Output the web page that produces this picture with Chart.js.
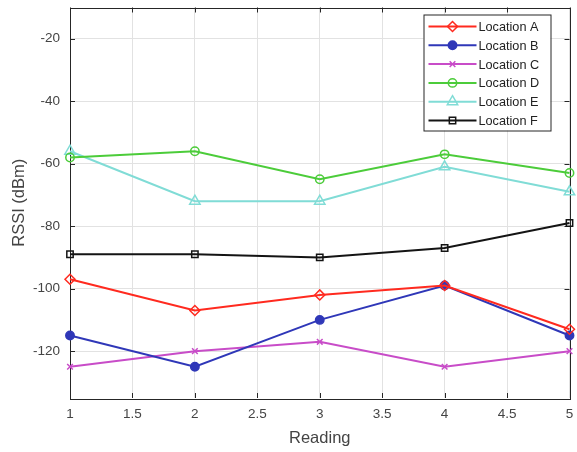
<!DOCTYPE html>
<html>
<head>
<meta charset="utf-8">
<style>
  html, body { margin: 0; padding: 0; background: #ffffff; }
  #wrap { width: 577px; height: 452px; }
</style>
<script src="https://cdn.jsdelivr.net/npm/chart.js@4/dist/chart.umd.min.js"></script>
</head>
<body>
<div id="wrap"><canvas id="c" width="577" height="452"></canvas></div>
<script>
// Readings taken at each location (RSSI in dBm)
const readings = [1, 2, 3, 4, 5];
const locationA = [-97, -107, -102, -99, -113];
const locationB = [-115, -125, -110, -99, -115];
const locationC = [-125, -120, -117, -125, -120];
const locationD = [-58, -56, -65, -57, -63];
const locationE = [-56, -72, -72, -61, -69];
const locationF = [-89, -89, -90, -87, -79];

const seriesNames = ['Location A', 'Location B', 'Location C', 'Location D', 'Location E', 'Location F'];
const xTicks = [1, 1.5, 2, 2.5, 3, 3.5, 4, 4.5, 5];
const yTicks = [-120, -100, -80, -60, -40, -20];

const FONT = "'Liberation Sans', Arial, sans-serif";
const TEXT = '#444444';

const styles = [
  { color: '#ff2a1f', point: 'rectRot', fill: false, r: 5 },
  { color: '#2f37b8', point: 'circle', fill: true, r: 4.2 },
  { color: '#c84cc8', point: 'crossRot', fill: false, r: 4 },
  { color: '#4ccc3a', point: 'circle', fill: false, r: 4.2 },
  { color: '#80dcd6', point: 'triangle', fill: false, r: 6 },
  { color: '#141414', point: 'rect', fill: false, r: 4.5 }
];
const values = [locationA, locationB, locationC, locationD, locationE, locationF];

const datasets = values.map((vals, i) => ({
  label: seriesNames[i],
  data: readings.map((x, j) => ({ x: x, y: vals[j] })),
  borderColor: styles[i].color,
  backgroundColor: styles[i].fill ? styles[i].color : 'rgba(0,0,0,0)',
  pointBorderColor: styles[i].color,
  pointBackgroundColor: styles[i].fill ? styles[i].color : '#ffffff00',
  pointStyle: styles[i].point,
  pointRadius: styles[i].r,
  pointBorderWidth: 1.5,
  borderWidth: 2,
  tension: 0,
  clip: false
}));

// Axes box with inward tick marks on all four sides
const boxPlugin = {
  id: 'box',
  beforeDatasetsDraw(chart) {
    const { ctx, chartArea: a, scales } = chart;
    ctx.save();
    ctx.strokeStyle = '#262626';
    ctx.lineWidth = 1;
    ctx.beginPath();
    xTicks.forEach(v => {
      const x = Math.round(scales.x.getPixelForValue(v)) + 0.5;
      ctx.moveTo(x, a.bottom); ctx.lineTo(x, a.bottom - 5);
      ctx.moveTo(x, a.top); ctx.lineTo(x, a.top + 5);
    });
    yTicks.forEach(v => {
      const y = Math.round(scales.y.getPixelForValue(v)) + 0.5;
      ctx.moveTo(a.left, y); ctx.lineTo(a.left + 5, y);
      ctx.moveTo(a.right, y); ctx.lineTo(a.right - 5, y);
    });
    ctx.stroke();
    ctx.strokeRect(Math.round(a.left) + 0.5, Math.round(a.top) + 0.5,
                   Math.round(a.right - a.left), Math.round(a.bottom - a.top));
    ctx.restore();
  }
};

// Boxed legend in the upper right corner of the plot
const legendPlugin = {
  id: 'boxLegend',
  afterDatasetsDraw(chart) {
    const { ctx, chartArea: a } = chart;
    const bw = 127, bh = 116;
    const bx = a.right - 19 - bw, by = a.top + 7;
    ctx.save();
    ctx.fillStyle = '#ffffff';
    ctx.fillRect(bx, by, bw, bh);
    ctx.strokeStyle = '#262626';
    ctx.lineWidth = 1;
    ctx.strokeRect(bx + 0.5, by + 0.5, bw, bh);
    ctx.font = '12.7px ' + FONT;
    ctx.textBaseline = 'middle';
    ctx.textAlign = 'left';
    chart.data.datasets.forEach((ds, i) => {
      const y = by + 12 + i * 18.8;
      ctx.strokeStyle = ds.borderColor;
      ctx.lineWidth = 2;
      ctx.beginPath();
      ctx.moveTo(bx + 5, y); ctx.lineTo(bx + 53, y);
      ctx.stroke();
      ctx.fillStyle = ds.pointBackgroundColor;
      ctx.strokeStyle = ds.pointBorderColor;
      ctx.lineWidth = 1.5;
      Chart.helpers.drawPoint(ctx, { pointStyle: ds.pointStyle, radius: ds.pointRadius, rotation: 0, borderWidth: 1.5 }, bx + 29, y);
      ctx.fillStyle = '#222222';
      ctx.fillText(ds.label, bx + 55, y + 1);
    });
    ctx.restore();
  }
};

new Chart(document.getElementById('c'), {
  type: 'line',
  data: { datasets: datasets },
  options: {
    responsive: false,
    animation: false,
    layout: { padding: { top: 5, right: 6, left: 0, bottom: 0 } },
    plugins: { legend: { display: false }, tooltip: { enabled: false } },
    scales: {
      x: {
        type: 'linear',
        min: 1, max: 5,
        afterBuildTicks: s => { s.ticks = xTicks.map(v => ({ value: v })); },
        afterFit: s => { s.height = 54; s.paddingLeft = 0; s.paddingRight = 0; },
        grid: { color: '#e2e2e2', drawTicks: false, lineWidth: 1 },
        border: { display: false },
        ticks: {
          padding: 8,
          color: TEXT,
          font: { family: FONT, size: 13.5 },
          maxRotation: 0,
          callback: v => String(v)
        },
        title: {
          display: true, text: 'Reading', color: TEXT,
          font: { family: FONT, size: 16.5 }, padding: { top: 4 }
        }
      },
      y: {
        type: 'linear',
        min: -135, max: -10,
        afterBuildTicks: s => { s.ticks = yTicks.map(v => ({ value: v })); },
        afterFit: s => { s.width = 70; s.paddingTop = 0; s.paddingBottom = 0; },
        grid: { color: '#e2e2e2', drawTicks: false, lineWidth: 1 },
        border: { display: false },
        ticks: {
          padding: 10,
          color: TEXT,
          font: { family: FONT, size: 13.5 },
          callback: v => String(v)
        },
        title: {
          display: true, text: 'RSSI (dBm)', color: TEXT,
          font: { family: FONT, size: 16.5 }, padding: { top: 10, bottom: 0 }
        }
      }
    }
  },
  plugins: [boxPlugin, legendPlugin]
});
</script>
</body>
</html>
